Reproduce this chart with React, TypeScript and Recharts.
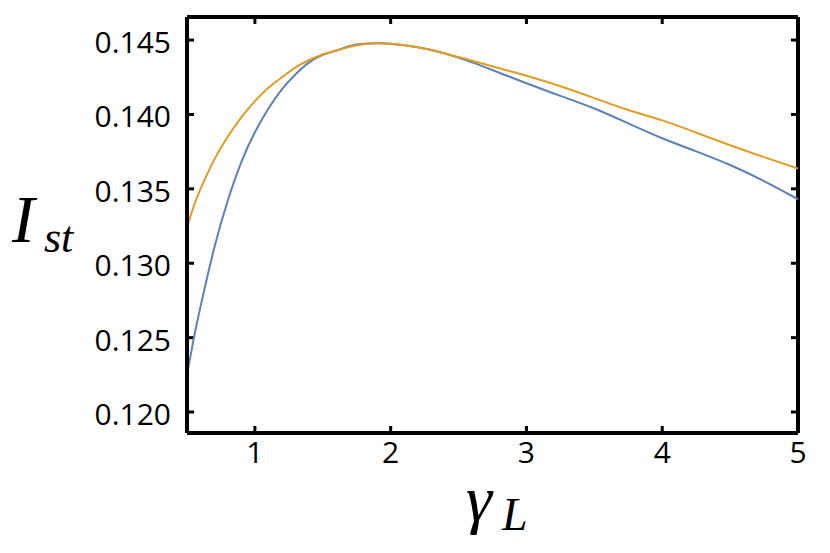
import { LineChart, Line, XAxis, YAxis, ReferenceLine } from 'recharts'

const gammaL = [0.5, 0.55, 0.6, 0.7, 0.8, 0.9, 1.0, 1.1, 1.2, 1.3, 1.4, 1.5, 1.6, 1.7, 1.8, 1.9, 2.0, 2.2, 2.4, 2.6, 2.8, 3.0, 3.25, 3.5, 3.75, 4.0, 4.25, 4.5, 4.75, 5.0]

const blueSeries = [0.1225, 0.12495, 0.1271, 0.1310, 0.1342, 0.1368, 0.1388, 0.1404, 0.1417, 0.1427, 0.1435, 0.1440, 0.1443, 0.1446, 0.14475, 0.14478, 0.14475, 0.14452, 0.1441, 0.1435, 0.1428, 0.1421, 0.14125, 0.1404, 0.1394, 0.1384, 0.13752, 0.1366, 0.13552, 0.1343]

const orangeSeries = [0.1324, 0.13385, 0.1350, 0.13695, 0.1385, 0.1398, 0.1409, 0.1418, 0.1425, 0.14316, 0.14366, 0.14404, 0.1443, 0.14455, 0.14472, 0.14478, 0.14475, 0.14452, 0.1441, 0.14362, 0.1431, 0.1426, 0.1419, 0.1411, 0.1403, 0.1396, 0.13878, 0.13793, 0.13713, 0.13636]

const xTicks = [1, 2, 3, 4, 5]
const yTicks = [0.120, 0.125, 0.130, 0.135, 0.140, 0.145]

const data = gammaL.map((g, i) => ({ g, blue: blueSeries[i], orange: orangeSeries[i] }))

// axis ranges
const X0 = 0.5, X1 = 5
const Y0 = 0.11859, Y1 = 0.14655
// inward tick length in data units (~7px)
const DX = 0.052, DY = 0.00047

const frame = { stroke: '#000', strokeWidth: 4 }
const mathFont = 'Liberation Serif'

const BottomTick = (p: any) => (
  <text x={Number(p.x)} y={Number(p.y) + 30} textAnchor='middle' fontFamily='Open Sans' fontSize={30} fill='#000'>
    {p.payload.value}
  </text>
)
const LeftTick = (p: any) => (
  <text x={Number(p.x) - 16} y={Number(p.y) + 13} textAnchor='end' fontFamily='Open Sans' fontSize={30} fill='#000'>
    {Number(p.payload.value).toFixed(3)}
  </text>
)

export default function App() {
  return (
    <LineChart width={822} height={537} data={data}
      margin={{ top: 9, right: 32, left: 99, bottom: 72 }}>
      <XAxis dataKey='g' type='number' domain={[X0, X1]} ticks={xTicks}
        allowDataOverflow height={40} axisLine={frame} tickLine={false}
        tickSize={0} tickMargin={0} tick={BottomTick} />
      <YAxis type='number' domain={[Y0, Y1]} ticks={yTicks}
        allowDataOverflow width={80} axisLine={frame} tickLine={false}
        tickSize={0} tickMargin={0} tick={LeftTick} />
      <ReferenceLine x={X1} stroke='#000' strokeWidth={4} />
      <ReferenceLine y={Y1} stroke='#000' strokeWidth={4} />
      {xTicks.map((t) => (
        <ReferenceLine key={'b' + t} segment={[{ x: t, y: Y0 }, { x: t, y: Y0 + DY }]} stroke='#000' strokeWidth={3} />
      ))}
      {xTicks.map((t) => (
        <ReferenceLine key={'t' + t} segment={[{ x: t, y: Y1 }, { x: t, y: Y1 - DY }]} stroke='#000' strokeWidth={3} />
      ))}
      {yTicks.map((t) => (
        <ReferenceLine key={'l' + t} segment={[{ x: X0, y: t }, { x: X0 + DX, y: t }]} stroke='#000' strokeWidth={3} />
      ))}
      {yTicks.map((t) => (
        <ReferenceLine key={'r' + t} segment={[{ x: X1, y: t }, { x: X1 - DX, y: t }]} stroke='#000' strokeWidth={3} />
      ))}
      <Line type='natural' dataKey='blue' stroke='#5e81b5' strokeWidth={2}
        dot={false} isAnimationActive={false} />
      <Line type='natural' dataKey='orange' stroke='#e19c24' strokeWidth={2}
        dot={false} isAnimationActive={false} />
      <text fontFamily={mathFont} fontStyle='italic' fill='#000'>
        <tspan x={4} y={234} fontSize={68}>I</tspan>
        <tspan x={36} y={244} fontSize={44}>st</tspan>
      </text>
      <text fontFamily={mathFont} fontStyle='italic' fill='#000'>
        <tspan x={458} y={513} fontSize={66}>γ</tspan>
        <tspan x={494} y={522} fontSize={46}>L</tspan>
      </text>
    </LineChart>
  )
}
